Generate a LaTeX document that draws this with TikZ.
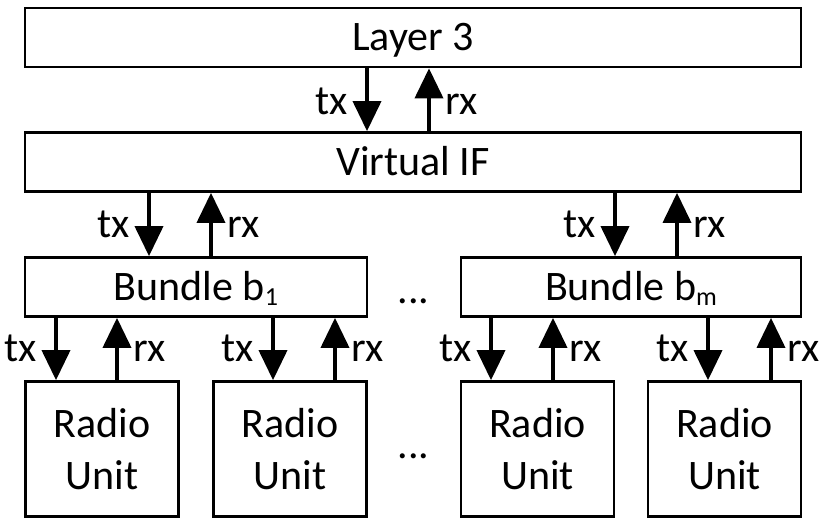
\documentclass[tikz,border=0pt]{standalone}
\usepackage{fontspec}
\setmainfont{Carlito}
\usetikzlibrary{arrows.meta}
\newcommand{\subtxt}[1]{\raisebox{-5pt}{\fontsize{26}{26}\selectfont #1}}
\begin{document}
\begin{tikzpicture}[x=1pt,y=-1pt,
  box/.style={draw, line width=2.7pt, minimum height=59pt, inner sep=0pt,
    text height=26pt, text depth=0pt, font=\fontsize{42}{52}\selectfont},
  rubox/.style={draw, line width=2.7pt, minimum width=153pt, minimum height=135pt,
    inner sep=0pt, align=center, font=\fontsize{42}{52}\selectfont},
  arr/.style={line width=3.7pt, -{Triangle[length=30pt,width=28pt]}},
  lbl/.style={inner sep=0pt, font=\fontsize{42}{52}\selectfont}]
\useasboundingbox (0,0) rectangle (828,520);
% boxes
\node[box, minimum width=776pt] (L3) at (413,37.5) {Layer 3};
\node[box, minimum width=776pt] (VIF) at (413,162) {Virtual IF};
\node[box, minimum width=342pt] (B1) at (196,287) {Bundle b\subtxt{1}};
\node[box, minimum width=340pt] (Bm) at (631,287) {Bundle b\subtxt{m}};
\node[rubox] (ru1) at (102,449) {Radio\\Unit};
\node[rubox] (ru2) at (290,449) {Radio\\Unit};
\node[rubox] (ru3) at (537.5,449) {Radio\\Unit};
\node[rubox] (ru4) at (724.5,449) {Radio\\Unit};
% x positions of the connectors
\foreach \n/\x in {a/367,b/429,c/149,d/211,e/615,f/677,g/56,h/117,i/273,j/335,k/491,l/553,m/708,n/771}
  \coordinate (x\n) at (\x,0);
% connectors
\draw[arr] (L3.south -| xa) -- (VIF.north -| xa);
\draw[arr] (VIF.north -| xb) -- (L3.south -| xb);
\draw[arr] (VIF.south -| xc) -- (B1.north -| xc);
\draw[arr] (B1.north -| xd) -- (VIF.south -| xd);
\draw[arr] (VIF.south -| xe) -- (Bm.north -| xe);
\draw[arr] (Bm.north -| xf) -- (VIF.south -| xf);
\draw[arr] (B1.south -| xg) -- (ru1.north -| xg);
\draw[arr] (ru1.north -| xh) -- (B1.south -| xh);
\draw[arr] (B1.south -| xi) -- (ru2.north -| xi);
\draw[arr] (ru2.north -| xj) -- (B1.south -| xj);
\draw[arr] (Bm.south -| xk) -- (ru3.north -| xk);
\draw[arr] (ru3.north -| xl) -- (Bm.south -| xl);
\draw[arr] (Bm.south -| xm) -- (ru4.north -| xm);
\draw[arr] (ru4.north -| xn) -- (Bm.south -| xn);
% labels
\foreach \n/\tx/\rx/\y in {1/367/429/114, 2/149/211/237, 3/615/677/237,
   4/56/117/361, 5/273/335/361, 6/491/553/361, 7/708/771/361}{
  \node[lbl, anchor=base east] (tx\n) at (\tx-19,\y) {tx};
  \node[lbl, anchor=base west] (rx\n) at (\rx+16,\y) {rx};
}
\node[lbl, anchor=base] (dots1) at (413.5,303) {...};
\node[lbl, anchor=base] (dots2) at (413.5,458) {...};
\end{tikzpicture}
\end{document}
